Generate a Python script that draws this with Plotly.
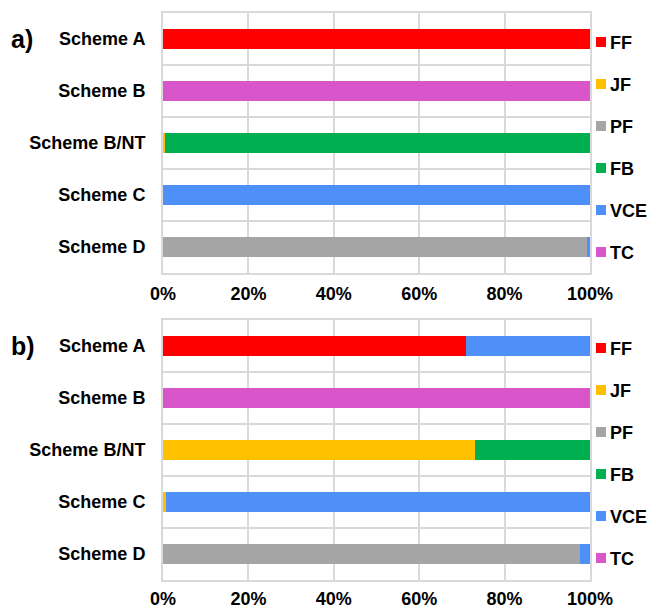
import plotly.graph_objects as go
from plotly.subplots import make_subplots

schemes = ["Scheme A", "Scheme B", "Scheme B/NT", "Scheme C", "Scheme D"]
series = ["FF", "JF", "PF", "FB", "VCE", "TC"]
colors = ["#FF0000", "#FFC000", "#A5A5A5", "#00B050", "#4E8FF8", "#D856C9"]

# panel a) values (% share) per series, in scheme order
a_FF = [100, 0, 0, 0, 0]
a_JF = [0, 0, 0.4, 0, 0]
a_PF = [0, 0, 0, 0, 99.2]
a_FB = [0, 0, 99.6, 0, 0]
a_VCE = [0, 0, 0, 100, 0.8]
a_TC = [0, 100, 0, 0, 0]

# panel b)
b_FF = [71, 0, 0, 0, 0]
b_JF = [0, 0, 73, 0.8, 0]
b_PF = [0, 0, 0, 0, 97.7]
b_FB = [0, 0, 27, 0, 0]
b_VCE = [29, 0, 0, 99.2, 2.3]
b_TC = [0, 100, 0, 0, 0]

xticks = [0, 20, 40, 60, 80, 100]

panel_a = [a_FF, a_JF, a_PF, a_FB, a_VCE, a_TC]
panel_b = [b_FF, b_JF, b_PF, b_FB, b_VCE, b_TC]

# layout helpers in figure pixels (page body adds an 8px offset)
L, R, T, B = 155, 74, 5, 36
W, H = 656, 608
PB = H - B          # plot bottom pixel
PH = H - T - B      # plot height
PW = W - L - R      # plot width


def px_x(p):
    return (p - L) / PW


def px_y(p):
    return (PB - p) / PH


fig = make_subplots(rows=2, cols=1, vertical_spacing=0.083)

FAM = "Liberation Sans, Arial, sans-serif"
font = dict(family=FAM, size=18, color="#000000", weight="bold")

for row, data in enumerate([panel_a, panel_b], start=1):
    for name, vals, col in zip(series, data, colors):
        fig.add_trace(
            go.Bar(
                y=schemes, x=vals, name=name, orientation="h",
                marker=dict(color=col, line=dict(width=0)),
                width=0.4, showlegend=False,
                hoverinfo="x+y+name",
            ),
            row=row, col=1,
        )

gridc = "#D9D9D9"
for r, dom, so in ((1, [px_y(265), 1.0], 3), (2, [0.0, px_y(312)], 1)):
    fig.update_xaxes(
        range=[0, 100], tickvals=xticks, ticktext=[f"{v}%" for v in xticks],
        showgrid=True, gridcolor=gridc, gridwidth=2,
        showline=True, linecolor=gridc, linewidth=2, mirror=True,
        zeroline=False, tickfont=font, ticks="", ticklabelstandoff=so,
        fixedrange=True, row=r, col=1,
    )
    fig.update_yaxes(
        domain=dom,
        categoryorder="array", categoryarray=schemes, autorange="reversed",
        tickson="boundaries", showgrid=True, gridcolor=gridc, gridwidth=2,
        showline=True, linecolor=gridc, linewidth=2, mirror=True,
        tickfont=font, ticks="", ticklabelstandoff=12,
        fixedrange=True, row=r, col=1,
    )

# legend keys (one column per panel), drawn as colour squares + text
annotations = []
shapes = []
for top in (34, 340):
    for i, (name, col) in enumerate(zip(series, colors)):
        cy = top + 42 * i
        shapes.append(dict(
            type="rect", xref="paper", yref="paper",
            x0=px_x(588), x1=px_x(598), y0=px_y(cy + 5), y1=px_y(cy - 5),
            fillcolor=col, line=dict(width=0), layer="above",
        ))
        annotations.append(dict(
            text=name, xref="paper", yref="paper", x=px_x(600), y=px_y(cy + 1),
            xanchor="left", yanchor="middle", showarrow=False, font=font,
        ))

annotations += [
    dict(text="<b>a)</b>", xref="paper", yref="paper", x=px_x(1), y=px_y(31),
         xanchor="left", yanchor="middle", showarrow=False,
         font=dict(family=FAM, size=25, color="#000")),
    dict(text="<b>b)</b>", xref="paper", yref="paper", x=px_x(1), y=px_y(338),
         xanchor="left", yanchor="middle", showarrow=False,
         font=dict(family=FAM, size=25, color="#000")),
]

fig.update_layout(
    width=W, height=H,
    margin=dict(l=L, r=R, t=T, b=B, autoexpand=False),
    barmode="stack",
    plot_bgcolor="white", paper_bgcolor="white",
    font=font,
    showlegend=False,
    annotations=annotations,
    shapes=shapes,
)

fig.write_html("out.html")
